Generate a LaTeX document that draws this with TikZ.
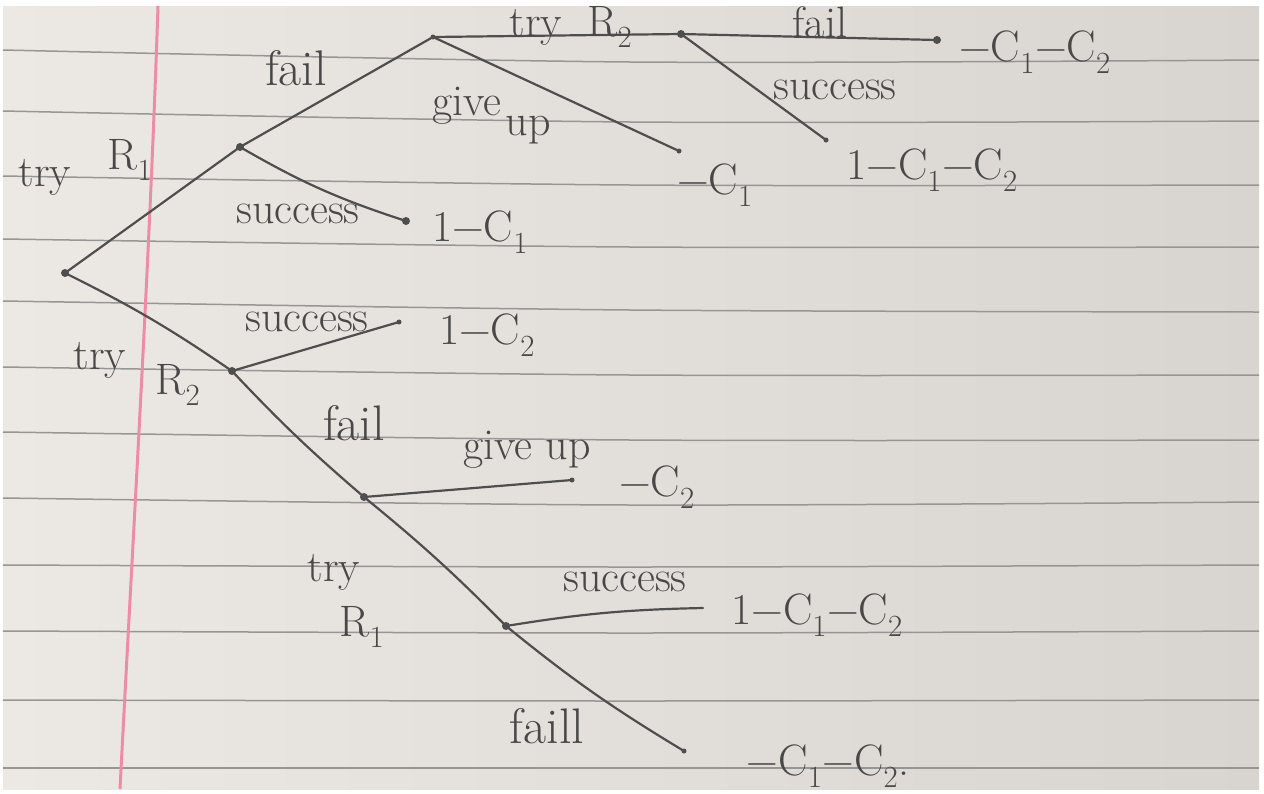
\documentclass[tikz,border=0pt]{standalone}
\usepackage{fontspec}
\definecolor{paperL}{RGB}{236,233,229}
\definecolor{paperR}{RGB}{216,213,209}
\definecolor{pencil}{RGB}{78,78,78}
\definecolor{ink}{RGB}{72,72,72}
\definecolor{rulegray}{RGB}{150,150,150}
\definecolor{marginpink}{RGB}{238,140,165}
\newcommand{\sbone}{\textsubscript{1}}
\newcommand{\sbtwo}{\textsubscript{2}}
\begin{document}
\begin{tikzpicture}[x=1pt,y=-1pt,
  branch/.style={draw=pencil,line width=2.2pt,line cap=round},
  dot/.style={circle,fill=pencil,inner sep=0pt,minimum size=8pt},
  sdot/.style={circle,fill=pencil,inner sep=0pt,minimum size=5pt},
  lbl/.style={text=ink,font=\fontsize{44}{50}\selectfont,inner sep=0pt},
  biglbl/.style={text=ink,font=\fontsize{50}{56}\selectfont,inner sep=0pt},
  rulestyle/.style={draw=rulegray,line width=1.5pt},
  marginline/.style={draw=marginpink,line width=3pt}]
\useasboundingbox (0,0) rectangle (1264,793);
\fill[white] (0,0) rectangle (1264,793);
\shade[left color=paperL,right color=paperR] (3,6) rectangle (1259,789);
% ruled lines
\foreach \a/\b/\c in {50/62/60, 111/122/121, 176/185/185, 239/247/247, 301/310/312, 367/375/375, 432/440/440, 498/505/502, 565/567/565, 631/633/631, 700/701/700, 768/768/768}
  \draw[rulestyle] plot[smooth] coordinates {(3,\a) (630,\b) (1259,\c)};
% margin line
\draw[marginline] (158,6) .. controls (150,250) and (135,500) .. (120,789);

% tree nodes
\node[dot]  (root) at (65,273) {};
\node[dot]  (A)  at (240,147) {};
\node[dot]  (A1) at (406,221) {};
\node[sdot] (B)  at (433,37) {};
\node[dot]  (C)  at (681,34) {};
\node[dot]  (C1) at (937,40) {};
\node[sdot] (C2) at (826,140) {};
\node[sdot] (B1) at (679,151) {};
\node[dot]  (D)  at (232,371) {};
\node[sdot] (D1) at (399,322) {};
\node[dot]  (E)  at (364,497) {};
\node[sdot] (E1) at (572,480) {};
\node[dot]  (F)  at (506,626) {};
\coordinate (F1) at (703,608);
\node[sdot] (F2) at (684,751) {};

% branches
\draw[branch] (root.center) -- (A.center);
\draw[branch] (A.center) -- (B.center);
\draw[branch] (A.center) to[bend right=6] (A1.center);
\draw[branch] (B.center) -- (C.center);
\draw[branch] (B.center) -- (B1.center);
\draw[branch] (C.center) -- (C1.center);
\draw[branch] (C.center) -- (C2.center);
\draw[branch] (root.center) to[bend left=4] (D.center);
\draw[branch] (D.center) -- (D1.center);
\draw[branch] (D.center) to[bend right=3] (E.center);
\draw[branch] (E.center) -- (E1.center);
\draw[branch] (E.center) to[bend left=3] (F.center);
\draw[branch] (F.center) to[bend left=4] (F1);
\draw[branch] (F.center) to[bend right=4] (F2.center);

% labels: upper part
\node[lbl] (l1a) at (45,177) {try};
\node[lbl] (l1b) at (130,160) {R\sbone};
\node[biglbl] (l2) at (296,68) {fail};
\node[lbl] (l3) at (298,214) {success};
\node[lbl] (l4) at (480,232) {1−C\sbone};
\node[lbl] (l5a) at (536,27) {try};
\node[lbl] (l5b) at (610,27) {R\sbtwo};
\node[lbl] (l6a) at (467,106) {give};
\node[lbl] (l6b) at (528,130) {up};
\node[lbl] (l7) at (820,22) {fail};
\node[lbl] (l8) at (1035,52) {−C\sbone−C\sbtwo};
\node[lbl] (l9) at (835,90) {success};
\node[lbl] (l10) at (932,170) {1−C\sbone−C\sbtwo};
\node[lbl] (l11) at (715,185) {−C\sbone};
% labels: lower part
\node[lbl] (l12a) at (100,360) {try};
\node[lbl] (l12b) at (178,385) {R\sbtwo};
\node[lbl] (l13) at (307,322) {success};
\node[lbl] (l14) at (487,335) {1−C\sbtwo};
\node[biglbl] (l15) at (354,423) {fail};
\node[lbl] (l16) at (527,450) {give up};
\node[lbl] (l17) at (657,487) {−C\sbtwo};
\node[lbl] (l18a) at (334,572) {try};
\node[lbl] (l18b) at (362,627) {R\sbone};
\node[lbl] (l19) at (625,582) {success};
\node[lbl] (l20) at (817,615) {1−C\sbone−C\sbtwo};
\node[biglbl] (l21) at (547,726) {faill};
\node[lbl] (l22) at (828,766) {−C\sbone−C\sbtwo.};
\end{tikzpicture}
\end{document}
